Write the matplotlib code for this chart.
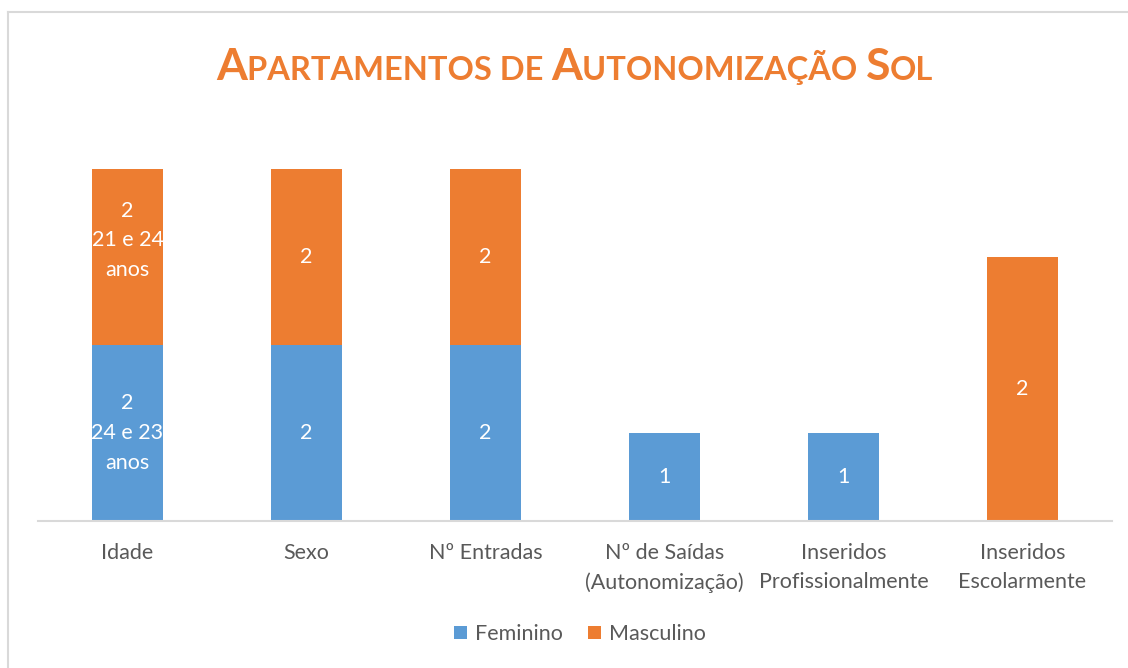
import matplotlib.pyplot as plt

categories = ["Idade", "Sexo", "Nº Entradas", "Nº de Saídas\n(Autonomização)",
              "Inseridos\nProfissionalmente", "Inseridos\nEscolarmente"]
feminino = [2, 2, 2, 1, 1, 0]
masculino = [2, 2, 2, 0, 0, 3]
feminino_labels = ["2\n24 e 23\nanos", "2", "2", "1", "1", ""]
masculino_labels = ["2\n21 e 24\nanos", "2", "2", "", "", "2"]

BLUE = "#5B9BD5"
ORANGE = "#ED7D31"
GREY = "#595959"
FONT = "Lato"
FS = 15.5

W, H = 1128, 668
fig = plt.figure(figsize=(W / 100, H / 100), dpi=100)
fig.patch.set_facecolor("white")

# outer chart border (only top and left are visible in the crop)
fig.add_artist(plt.Line2D([8 / W, 8 / W], [0, 1 - 12 / H], color="#D9D9D9", lw=1.5))
fig.add_artist(plt.Line2D([8 / W, 1], [1 - 12 / H, 1 - 12 / H], color="#D9D9D9", lw=1.5))

ax = fig.add_axes([38 / W, 1 - 521 / H, (1112 - 38) / W, (521 - 169) / H])
x = range(len(categories))
ax.bar(x, feminino, width=0.4, color=BLUE, label="Feminino")
ax.bar(x, masculino, width=0.4, bottom=feminino, color=ORANGE, label="Masculino")
ax.set_xlim(-0.5, len(categories) - 0.5)
ax.set_ylim(0, 4)

for i in x:
    if feminino_labels[i]:
        ax.text(i, feminino[i] / 2, feminino_labels[i], ha="center", va="center",
                color="white", fontsize=FS, family=FONT, linespacing=1.6)
    if masculino_labels[i]:
        # the multi-line label on the first bar sits a little above centre
        dy = 12 if "\n" in masculino_labels[i] else 0
        ax.annotate(masculino_labels[i], (i, feminino[i] + masculino[i] / 2),
                    xytext=(0, dy), textcoords="offset points", ha="center",
                    va="center", color="white", fontsize=FS, family=FONT, linespacing=1.6)

for s in ["top", "right", "left"]:
    ax.spines[s].set_visible(False)
ax.spines["bottom"].set_color("#D9D9D9")
ax.spines["bottom"].set_linewidth(1.5)
ax.set_yticks([])
ax.set_xticks(list(x))
ax.set_xticklabels(categories, color=GREY, fontsize=FS, family=FONT, linespacing=1.55, va="top")
ax.tick_params(axis="x", length=0, pad=16)

leg = fig.legend(loc="center", bbox_to_anchor=(580 / W, 1 - 634 / H), ncol=2, frameon=False,
                 prop={"family": FONT, "size": FS}, handlelength=0.6, handleheight=0.6,
                 columnspacing=1.2, handletextpad=0.35)
for t in leg.get_texts():
    t.set_color(GREY)

# small-caps title built from pieces
pieces = [("A", 32), ("PARTAMENTOS DE ", 23.5), ("A", 32), ("UTONOMIZAÇÃO ", 23.5),
          ("S", 32), ("OL", 23.5)]
renderer = fig.canvas.get_renderer()
texts = []
total = 0
for s, size in pieces:
    t = fig.text(0, 1 - 80 / H, s, fontsize=size, color=ORANGE, fontweight="bold",
                 family=FONT, va="baseline", ha="left")
    w = t.get_window_extent(renderer).width
    texts.append((t, w))
    total += w
xpos = 575 - total / 2
for t, w in texts:
    t.set_x(xpos / W)
    xpos += w

fig.savefig("out.png", dpi=100, facecolor="white")
